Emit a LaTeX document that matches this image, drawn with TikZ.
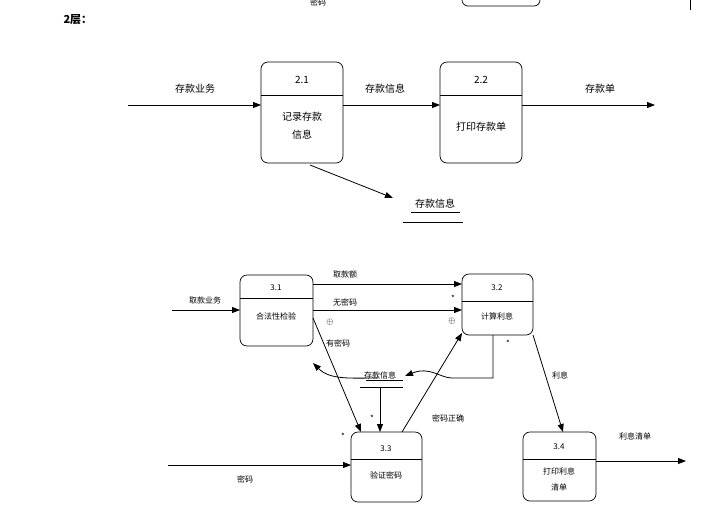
\documentclass[tikz,border=0pt]{standalone}
\usepackage{fontspec}
\newfontfamily\cjk{Noto Sans CJK SC}
\usetikzlibrary{arrows.meta}
\tikzset{
  proc/.style = {draw, rounded corners=7pt, line width=0.7pt},
  flow/.style = {-{Triangle[length=8pt,width=6pt]}, line width=0.8pt},
  lbl/.style = {font=\cjk\fontsize{10}{12}\selectfont},
  sml/.style = {font=\cjk\fontsize{8}{10}\selectfont},
}
\begin{document}
\begin{tikzpicture}[x=1pt, y=-1pt]
\useasboundingbox (0,0) rectangle (720,515);
% top remains
\node[sml] (oldpw) at (318,2) {密码};
\draw[line width=0.7pt, rounded corners=6pt] (462,-10) -- (462,6) -- (540,6) -- (540,-10);
\draw (690,0) -- (690,10);
\node[font=\cjk\bfseries\fontsize{11}{13}\selectfont, anchor=west] (lev) at (60,20) {2层：};
% level 2
\draw[proc] (261,62) rectangle (343,163);
\draw (261,95) -- (343,95);
\node[lbl] (p21) at (302,80) {2.1};
\node[lbl, align=center] (p21t) at (302,126) {记录存款\\[6pt]信息};
\draw[proc] (440,62) rectangle (522,163);
\draw (440,95) -- (522,95);
\node[lbl] (p22) at (481,80) {2.2};
\node[lbl] (p22t) at (481,127) {打印存款单};
\coordinate (in2) at (128,105);
\coordinate (a21) at (261,105);
\coordinate (b21) at (343,105);
\coordinate (a22) at (440,105);
\coordinate (b22) at (522,105);
\coordinate (out2) at (655,105);
\draw[flow] (in2) -- (a21);
\draw[flow] (b21) -- (a22);
\draw[flow] (b22) -- (out2);
\node[lbl] at (195,89) {存款业务};
\node[lbl] at (385,89) {存款信息};
\node[lbl] at (600,89) {存款单};
\coordinate (c21) at (310,165);
\coordinate (st2) at (393,198);
\draw[flow] (c21) -- (st2);
\node[lbl] (store2) at (435,204) {存款信息};
\draw (411,212) -- (460,212);
\draw (403,222) -- (463,222);
% level 3
\draw[proc] (240,275) rectangle (313,346);
\draw (240,298) -- (313,298);
\node[sml] (p31) at (276,288) {3.1};
\node[sml] (p31t) at (276,316) {合法性检验};
\draw[proc] (462,274) rectangle (533,335);
\draw (462,301) -- (533,301);
\node[sml] (p32) at (497,288) {3.2};
\node[sml] (p32t) at (497,316) {计算利息};
\draw[proc] (351,432) rectangle (422,502);
\draw (351,459) -- (422,459);
\node[sml] (p33) at (386,449) {3.3};
\node[sml] (p33t) at (386,475) {验证密码};
\draw[proc] (523,432) rectangle (596,501);
\draw (523,459) -- (596,459);
\node[sml] (p34) at (559,447) {3.4};
\node[sml, align=center] (p34t) at (559,479) {打印利息\\[6pt]清单};
% flows
\draw[flow] (172,310) -- (240,310);
\node[sml] at (205,300) {取款业务};
\draw[flow] (313,284) -- (462,284);
\node[sml] at (345,274) {取款额};
\draw[flow] (313,310) -- (462,310);
\node[sml] at (345,302) {无密码};
\node[font=\fontsize{9}{9}\selectfont] at (330,322) {$\oplus$};
\node[font=\fontsize{9}{9}\selectfont] at (452,321) {$\oplus$};
\node[sml] at (453,298) {*};
\draw[flow] (313,318) -- (361,432);
\node[sml] at (338,343) {有密码};
\node[sml] at (343,436) {*};
\node[sml] (store3) at (380,375) {存款信息};
\draw (362,370) -- (362,370);
\draw (366,380) -- (403,380);
\draw (360,387) -- (403,387);
\draw[flow] (380,387) -- (380,432);
\node[sml] at (372,418) {*};
\draw[flow] (493,335) -- (493,378) -- (452,378) .. controls (440,378) and (430,366) .. (405,376);
\draw[flow] (378,378) .. controls (350,378) and (330,380) .. (313,363);
\draw[flow] (402,432) -- (462,333);
\node[sml] at (448,418) {密码正确};
\node[sml] at (508,343) {*};
\draw[flow] (533,335) -- (563,432);
\node[sml] at (560,375) {利息};
\draw[flow] (596,461) -- (686,461);
\node[sml] at (635,436) {利息清单};
\draw[flow] (168,465) -- (351,465);
\node[sml] at (245,479) {密码};
\end{tikzpicture}
\end{document}
